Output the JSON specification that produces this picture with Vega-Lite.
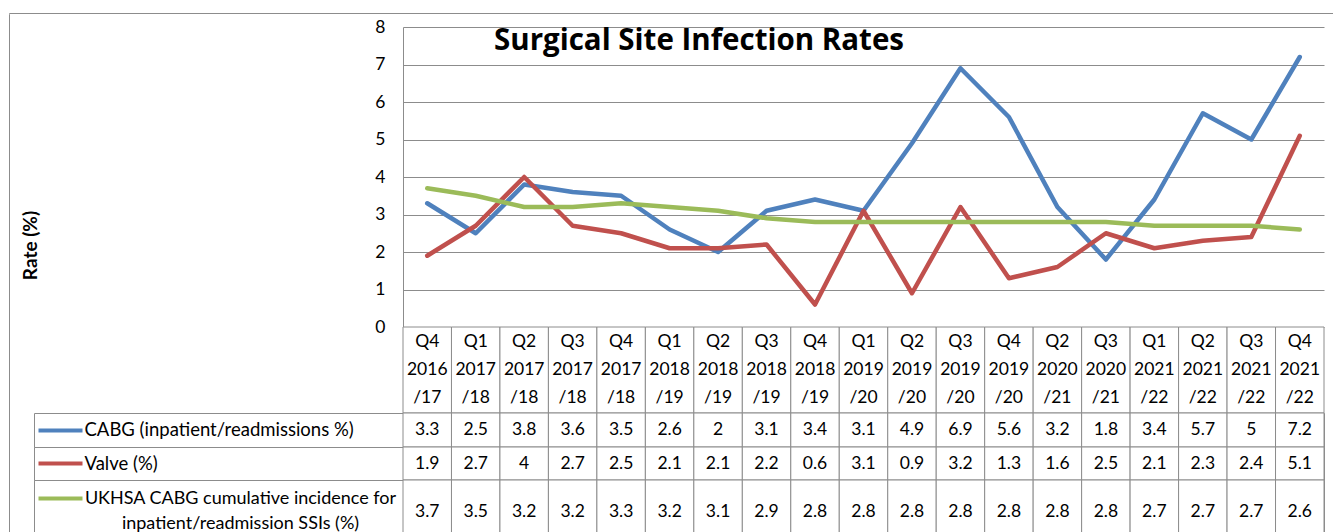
{
  "$schema": "https://vega.github.io/schema/vega-lite/v6.json",
  "padding": {"left": 8, "top": 12, "right": 0, "bottom": 0},
  "background": "#ffffff",
  "title": {"text": "Surgical Site Infection Rates", "anchor": "start", "frame": "group", "dx": 485, "offset": -44, "font": "Open Sans", "fontSize": 29.5, "fontWeight": "bold", "color": "#000000"},
  "config": {
    "font": "Lato",
    "view": {"stroke": null},
    "text": {"font": "Lato", "fontSize": 17.5, "color": "#000000"},
    "axis": {"labelFont": "Lato", "titleFont": "Lato", "labelColor": "#000000", "titleColor": "#000000", "labelFontSize": 17.5}
  },
  "datasets": {
    "rates": [
      {"series": "CABG (inpatient/readmissions %)", "quarter": "Q4 2016/17", "value": 3.3},
      {"series": "CABG (inpatient/readmissions %)", "quarter": "Q1 2017/18", "value": 2.5},
      {"series": "CABG (inpatient/readmissions %)", "quarter": "Q2 2017/18", "value": 3.8},
      {"series": "CABG (inpatient/readmissions %)", "quarter": "Q3 2017/18", "value": 3.6},
      {"series": "CABG (inpatient/readmissions %)", "quarter": "Q4 2017/18", "value": 3.5},
      {"series": "CABG (inpatient/readmissions %)", "quarter": "Q1 2018/19", "value": 2.6},
      {"series": "CABG (inpatient/readmissions %)", "quarter": "Q2 2018/19", "value": 2},
      {"series": "CABG (inpatient/readmissions %)", "quarter": "Q3 2018/19", "value": 3.1},
      {"series": "CABG (inpatient/readmissions %)", "quarter": "Q4 2018/19", "value": 3.4},
      {"series": "CABG (inpatient/readmissions %)", "quarter": "Q1 2019/20", "value": 3.1},
      {"series": "CABG (inpatient/readmissions %)", "quarter": "Q2 2019/20", "value": 4.9},
      {"series": "CABG (inpatient/readmissions %)", "quarter": "Q3 2019/20", "value": 6.9},
      {"series": "CABG (inpatient/readmissions %)", "quarter": "Q4 2019/20", "value": 5.6},
      {"series": "CABG (inpatient/readmissions %)", "quarter": "Q2 2020/21", "value": 3.2},
      {"series": "CABG (inpatient/readmissions %)", "quarter": "Q3 2020/21", "value": 1.8},
      {"series": "CABG (inpatient/readmissions %)", "quarter": "Q1 2021/22", "value": 3.4},
      {"series": "CABG (inpatient/readmissions %)", "quarter": "Q2 2021/22", "value": 5.7},
      {"series": "CABG (inpatient/readmissions %)", "quarter": "Q3 2021/22", "value": 5},
      {"series": "CABG (inpatient/readmissions %)", "quarter": "Q4 2021/22", "value": 7.2},
      {"series": "Valve (%)", "quarter": "Q4 2016/17", "value": 1.9},
      {"series": "Valve (%)", "quarter": "Q1 2017/18", "value": 2.7},
      {"series": "Valve (%)", "quarter": "Q2 2017/18", "value": 4},
      {"series": "Valve (%)", "quarter": "Q3 2017/18", "value": 2.7},
      {"series": "Valve (%)", "quarter": "Q4 2017/18", "value": 2.5},
      {"series": "Valve (%)", "quarter": "Q1 2018/19", "value": 2.1},
      {"series": "Valve (%)", "quarter": "Q2 2018/19", "value": 2.1},
      {"series": "Valve (%)", "quarter": "Q3 2018/19", "value": 2.2},
      {"series": "Valve (%)", "quarter": "Q4 2018/19", "value": 0.6},
      {"series": "Valve (%)", "quarter": "Q1 2019/20", "value": 3.1},
      {"series": "Valve (%)", "quarter": "Q2 2019/20", "value": 0.9},
      {"series": "Valve (%)", "quarter": "Q3 2019/20", "value": 3.2},
      {"series": "Valve (%)", "quarter": "Q4 2019/20", "value": 1.3},
      {"series": "Valve (%)", "quarter": "Q2 2020/21", "value": 1.6},
      {"series": "Valve (%)", "quarter": "Q3 2020/21", "value": 2.5},
      {"series": "Valve (%)", "quarter": "Q1 2021/22", "value": 2.1},
      {"series": "Valve (%)", "quarter": "Q2 2021/22", "value": 2.3},
      {"series": "Valve (%)", "quarter": "Q3 2021/22", "value": 2.4},
      {"series": "Valve (%)", "quarter": "Q4 2021/22", "value": 5.1},
      {"series": "UKHSA CABG cumulative incidence for inpatient/readmission SSIs (%)", "quarter": "Q4 2016/17", "value": 3.7},
      {"series": "UKHSA CABG cumulative incidence for inpatient/readmission SSIs (%)", "quarter": "Q1 2017/18", "value": 3.5},
      {"series": "UKHSA CABG cumulative incidence for inpatient/readmission SSIs (%)", "quarter": "Q2 2017/18", "value": 3.2},
      {"series": "UKHSA CABG cumulative incidence for inpatient/readmission SSIs (%)", "quarter": "Q3 2017/18", "value": 3.2},
      {"series": "UKHSA CABG cumulative incidence for inpatient/readmission SSIs (%)", "quarter": "Q4 2017/18", "value": 3.3},
      {"series": "UKHSA CABG cumulative incidence for inpatient/readmission SSIs (%)", "quarter": "Q1 2018/19", "value": 3.2},
      {"series": "UKHSA CABG cumulative incidence for inpatient/readmission SSIs (%)", "quarter": "Q2 2018/19", "value": 3.1},
      {"series": "UKHSA CABG cumulative incidence for inpatient/readmission SSIs (%)", "quarter": "Q3 2018/19", "value": 2.9},
      {"series": "UKHSA CABG cumulative incidence for inpatient/readmission SSIs (%)", "quarter": "Q4 2018/19", "value": 2.8},
      {"series": "UKHSA CABG cumulative incidence for inpatient/readmission SSIs (%)", "quarter": "Q1 2019/20", "value": 2.8},
      {"series": "UKHSA CABG cumulative incidence for inpatient/readmission SSIs (%)", "quarter": "Q2 2019/20", "value": 2.8},
      {"series": "UKHSA CABG cumulative incidence for inpatient/readmission SSIs (%)", "quarter": "Q3 2019/20", "value": 2.8},
      {"series": "UKHSA CABG cumulative incidence for inpatient/readmission SSIs (%)", "quarter": "Q4 2019/20", "value": 2.8},
      {"series": "UKHSA CABG cumulative incidence for inpatient/readmission SSIs (%)", "quarter": "Q2 2020/21", "value": 2.8},
      {"series": "UKHSA CABG cumulative incidence for inpatient/readmission SSIs (%)", "quarter": "Q3 2020/21", "value": 2.8},
      {"series": "UKHSA CABG cumulative incidence for inpatient/readmission SSIs (%)", "quarter": "Q1 2021/22", "value": 2.7},
      {"series": "UKHSA CABG cumulative incidence for inpatient/readmission SSIs (%)", "quarter": "Q2 2021/22", "value": 2.7},
      {"series": "UKHSA CABG cumulative incidence for inpatient/readmission SSIs (%)", "quarter": "Q3 2021/22", "value": 2.7},
      {"series": "UKHSA CABG cumulative incidence for inpatient/readmission SSIs (%)", "quarter": "Q4 2021/22", "value": 2.6}
    ]
  },
  "spacing": 0,
  "bounds": "flush",
  "vconcat": [
    {"width": 1324, "height": 0.01, "data": {"values": []}, "mark": "point", "view": {"stroke": "#8c8c8c"}},
    {
      "spacing": 24,
      "bounds": "flush",
      "hconcat": [
        {"width": 0.01, "height": 540, "data": {"values": []}, "mark": "point", "view": {"stroke": "#8c8c8c"}},
        {
          "spacing": 0,
          "bounds": "flush",
          "vconcat": [
            {"width": 0.01, "height": 13, "data": {"values": []}, "mark": "point"},
            {
              "width": 1290,
              "height": 300,
              "data": {"name": "rates"},
              "mark": {"type": "line", "strokeWidth": 4.5, "strokeJoin": "round", "strokeCap": "round"},
              "encoding": {
                "x": {"field": "quarter", "type": "nominal", "sort": null, "axis": null, "scale": {"type": "point", "padding": 0.5, "range": [369, 1290]}},
                "y": {
                  "field": "value", "type": "quantitative",
                  "scale": {"domain": [0, 8], "nice": false},
                  "axis": {
                    "values": [0, 1, 2, 3, 4, 5, 6, 7, 8],
                    "grid": false,
                    "offset": -369,
                    "domain": true, "domainColor": "#8c8c8c",
                    "ticks": true, "tickSize": -921, "tickColor": "#8c8c8c", "tickWidth": 1,
                    "labelPadding": 939, "labelFontSize": 17.5,
                    "title": "Rate (%)", "titleX": -373, "titleY": 218, "titleAngle": -90,
                    "titleAlign": "center", "titleBaseline": "middle",
                    "titleFontWeight": "bold", "titleFontSize": 19
                  }
                },
                "color": {
                  "field": "series", "type": "nominal",
                  "scale": {
                    "domain": ["CABG (inpatient/readmissions %)", "Valve (%)", "UKHSA CABG cumulative incidence for inpatient/readmission SSIs (%)"],
                    "range": ["#4F81BD", "#C0504D", "#9BBB59"]
                  },
                  "legend": null
                }
              }
            },
            {
              "width": 1290,
              "height": 86,
              "data": {"name": "rates"},
              "transform": [
                {"filter": "datum.series === 'Valve (%)'"},
                {"calculate": "split(replace(datum.quarter, '/', ' /'), ' ')", "as": "lines"}
              ],
              "encoding": {
                "x": {"field": "quarter", "type": "nominal", "sort": null, "axis": null, "scale": {"paddingInner": 0, "paddingOuter": 0, "range": [369, 1290]}}
              },
              "layer": [
                {"mark": {"type": "rect", "fill": "#ffffff", "stroke": "#8c8c8c", "strokeWidth": 1}},
                {"mark": {"type": "text", "lineHeight": 28, "baseline": "middle", "dy": -28}, "encoding": {"text": {"field": "lines", "type": "nominal"}}}
              ]
            },
            {
              "width": 1290,
              "height": 34,
              "view": {"stroke": "#8c8c8c"},
              "data": {"name": "rates"},
              "transform": [{"filter": "datum.series === 'CABG (inpatient/readmissions %)'"}],
              "encoding": {
                "x": {"field": "quarter", "type": "nominal", "sort": null, "axis": null, "scale": {"paddingInner": 0, "paddingOuter": 0, "range": [369, 1290]}},
                "y": {"field": "series", "type": "nominal", "scale": {"paddingInner": 0, "paddingOuter": 0},
                  "axis": {"title": null, "domain": false, "tickColor": "#4F81BD", "tickWidth": 4, "tickSize": 44, "tickCap": "butt", "offset": -48, "labelAlign": "left", "labelPadding": -46, "labelLimit": 0, "labelBaseline": "middle", "labelFontSize": 18.5}}
              },
              "layer": [
                {"mark": {"type": "rect", "fill": "#ffffff", "stroke": "#8c8c8c", "strokeWidth": 1}},
                {"mark": {"type": "text"}, "encoding": {"text": {"field": "value", "type": "quantitative"}}}
              ]
            },
            {
              "width": 1290,
              "height": 33,
              "view": {"stroke": "#8c8c8c"},
              "data": {"name": "rates"},
              "transform": [{"filter": "datum.series === 'Valve (%)'"}],
              "encoding": {
                "x": {"field": "quarter", "type": "nominal", "sort": null, "axis": null, "scale": {"paddingInner": 0, "paddingOuter": 0, "range": [369, 1290]}},
                "y": {"field": "series", "type": "nominal", "scale": {"paddingInner": 0, "paddingOuter": 0},
                  "axis": {"title": null, "domain": false, "tickColor": "#C0504D", "tickWidth": 4, "tickSize": 44, "tickCap": "butt", "offset": -48, "labelAlign": "left", "labelPadding": -46, "labelLimit": 0, "labelBaseline": "middle", "labelFontSize": 18.5}}
              },
              "layer": [
                {"mark": {"type": "rect", "fill": "#ffffff", "stroke": "#8c8c8c", "strokeWidth": 1}},
                {"mark": {"type": "text"}, "encoding": {"text": {"field": "value", "type": "quantitative"}}}
              ]
            },
            {
              "width": 1290,
              "height": 64,
              "view": {"stroke": "#8c8c8c"},
              "data": {"name": "rates"},
              "transform": [{"filter": "datum.series === 'UKHSA CABG cumulative incidence for inpatient/readmission SSIs (%)'"}],
              "encoding": {
                "x": {"field": "quarter", "type": "nominal", "sort": null, "axis": null, "scale": {"paddingInner": 0, "paddingOuter": 0, "range": [369, 1290]}},
                "y": {"field": "series", "type": "nominal", "scale": {"paddingInner": 0, "paddingOuter": 0},
                  "axis": {"title": null, "domain": false, "tickColor": "#9BBB59", "tickWidth": 4, "tickSize": 44, "tickCap": "butt", "tickOffset": -14, "offset": -48, "labelAlign": "center", "labelPadding": -202, "labelLimit": 0, "labelBaseline": "middle", "labelLineHeight": 25, "labelFontSize": 18,
                    "labelExpr": "split(replace(datum.label, 'for ', 'for|'), '|')"}}
              },
              "layer": [
                {"mark": {"type": "rect", "fill": "#ffffff", "stroke": "#8c8c8c", "strokeWidth": 1}},
                {"mark": {"type": "text"}, "encoding": {"text": {"field": "value", "type": "quantitative"}}}
              ]
            }
          ]
        }
      ]
    }
  ]
}
